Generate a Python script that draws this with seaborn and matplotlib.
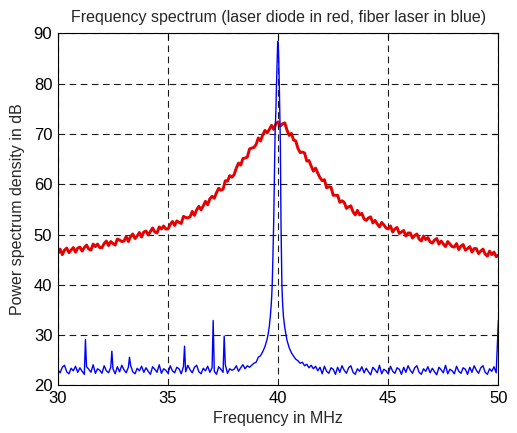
import numpy as np
import pandas as pd
import matplotlib
matplotlib.use("Agg")
import matplotlib.pyplot as plt
import seaborn as sns

# ---------------- data ----------------
freq_grid = np.round(np.linspace(30.0, 50.0, 201), 1)   # MHz, 0.1 MHz steps

# laser diode (red) spectrum, dB, one value per 0.1 MHz
red_db = [
    46.2, 47.1, 46.0, 46.9, 47.3, 46.4, 46.9, 47.4, 46.5, 47.3,
    47.5, 46.7, 47.4, 47.9, 47.1, 46.9, 48.1, 47.6, 48.1, 47.4,
    47.4, 48.2, 48.7, 47.8, 48.6, 48.2, 47.9, 49.1, 48.9, 48.6,
    48.7, 49.6, 48.6, 49.6, 50.1, 49.2, 49.7, 50.4, 49.5, 50.5,
    50.7, 49.9, 50.6, 51.3, 50.5, 50.3, 51.5, 51.1, 51.7, 51.1,
    51.1, 52.0, 52.6, 51.8, 52.7, 52.4, 52.2, 53.6, 53.4, 53.3,
    53.5, 54.6, 53.8, 54.9, 55.6, 54.9, 55.7, 56.6, 55.9, 57.1,
    57.6, 57.2, 58.3, 59.2, 58.8, 59.0, 60.7, 60.6, 61.7, 61.4,
    61.9, 63.2, 64.2, 63.8, 65.1, 65.2, 65.4, 67.0, 67.2, 67.3,
    67.9, 69.2, 68.6, 69.8, 70.7, 70.2, 70.9, 71.7, 70.9, 72.0,
    72.4, 71.6, 72.0, 72.2, 70.8, 69.7, 70.1, 68.8, 68.6, 67.1,
    66.3, 66.4, 66.2, 64.6, 64.7, 63.6, 62.6, 63.2, 62.2, 61.3,
    60.7, 60.9, 59.3, 59.5, 59.4, 57.8, 57.8, 57.8, 56.4, 56.7,
    56.4, 55.2, 55.5, 55.7, 54.5, 53.9, 54.8, 53.9, 54.2, 53.1,
    52.8, 53.3, 53.5, 52.3, 52.8, 52.1, 51.5, 52.4, 51.9, 51.3,
    51.1, 51.7, 50.5, 51.1, 51.4, 50.2, 50.5, 50.8, 49.7, 50.3,
    50.3, 49.3, 49.8, 50.1, 49.1, 48.7, 49.7, 49.0, 49.4, 48.5,
    48.3, 48.9, 49.2, 48.1, 48.7, 48.1, 47.6, 48.6, 48.1, 47.6,
    47.5, 48.2, 47.0, 47.7, 48.0, 46.9, 47.2, 47.6, 46.5, 47.2,
    47.2, 46.2, 46.7, 47.1, 46.1, 45.7, 46.7, 46.0, 46.5, 45.6,
    45.9,
]

# fiber laser (blue) spectrum, dB, one value per 0.1 MHz
blue_db = [
    23.1, 22.5, 23.6, 24.0, 22.7, 22.3, 23.4, 22.9, 23.8, 22.6,
    23.5, 22.8, 22.2, 23.7, 23.2, 22.6, 24.1, 22.4, 23.3, 23.0,
    22.4, 23.9, 22.9, 22.5, 23.6, 23.3, 22.3, 23.7, 22.7, 24.0,
    23.1, 22.5, 23.6, 24.0, 22.7, 22.3, 23.4, 22.9, 23.8, 22.6,
    23.5, 22.8, 22.2, 23.7, 23.2, 22.6, 24.1, 22.4, 23.3, 23.0,
    22.4, 23.9, 22.9, 22.5, 23.6, 23.3, 22.3, 23.7, 22.7, 24.0,
    23.1, 22.5, 23.6, 24.0, 22.7, 22.3, 23.4, 22.9, 23.8, 22.6,
    23.5, 22.8, 22.2, 23.7, 23.2, 22.6, 24.1, 22.4, 23.3, 23.0,
    23.2, 23.9, 22.8, 23.5, 24.1, 23.3, 23.9, 23.6,
    24.0, 24.4, 24.6, 25.6, 25.9, 26.7, 27.7, 29.2, 31.8, 37.0,
    53.0, 75.0, 87.5, 68.0, 36.5, 31.5, 29.0, 27.5, 26.5, 25.8,
    25.2, 24.9, 24.4, 24.6, 23.9, 24.2, 23.5, 24.0, 23.3,
    23.8, 22.9, 23.6,
    22.3, 23.8, 22.8, 22.4, 23.5, 23.2, 22.2, 23.6, 22.6, 23.9,
    23.0, 22.4, 23.5, 23.9, 22.6, 22.2, 23.3, 22.8, 23.7, 22.5,
    23.4, 22.7, 22.1, 23.6, 23.1, 22.5, 24.0, 22.3, 23.2, 22.9,
    22.3, 23.8, 22.8, 22.4, 23.5, 23.2, 22.2, 23.6, 22.6, 23.9,
    23.0, 22.4, 23.5, 23.9, 22.6, 22.2, 23.3, 22.8, 23.7, 22.5,
    23.4, 22.7, 22.1, 23.6, 23.1, 22.5, 24.0, 22.3, 23.2, 22.9,
    22.3, 23.8, 22.8, 22.4, 23.5, 23.2, 22.2, 23.6, 22.6, 23.9,
    23.0, 22.4, 23.5, 23.9, 22.6, 22.2, 23.3, 22.8, 23.7, 22.5,
    33.0,
]

# extra blue samples: fine detail of the carrier peak
peak_freq = [39.55, 39.65, 39.73, 39.76, 39.86, 39.92, 39.98, 40.02, 40.06, 40.13, 40.17, 40.24]
peak_db = [30.3, 34.0, 40.0, 45.0, 70.0, 79.0, 88.4, 86.0, 78.0, 52.0, 40.0, 33.7]

# extra blue samples: narrow spurs
spur_freq = [31.25, 32.45, 33.25, 35.75, 37.05, 37.55]
spur_db = [29.1, 26.8, 25.6, 27.8, 32.9, 29.8]

x_ticks = [30, 35, 40, 45, 50]
y_ticks = [20, 30, 40, 50, 60, 70, 80, 90]

# ---------------- tables ----------------
red_df = pd.DataFrame({"freq": freq_grid, "db": red_db})
blue_df = pd.concat([
    pd.DataFrame({"freq": freq_grid, "db": blue_db}),
    pd.DataFrame({"freq": peak_freq, "db": peak_db}),
    pd.DataFrame({"freq": spur_freq, "db": spur_db}),
]).sort_values("freq").reset_index(drop=True)

# ---------------- plot ----------------
sns.set_style("white")
plt.rcParams["font.family"] = ["Liberation Sans", "DejaVu Sans"]

fig = plt.figure(figsize=(5.17, 4.33), dpi=100)
ax = fig.add_axes([0.112, 0.110, 0.852, 0.813])

sns.lineplot(data=red_df, x="freq", y="db", color="#e60000", lw=2.1,
             estimator=None, sort=True, ax=ax)
sns.lineplot(data=blue_df, x="freq", y="db", color="#0000ff", lw=1.0,
             estimator=None, sort=True, ax=ax)

ax.set_xlim(30, 50)
ax.set_ylim(20, 90)
ax.set_xticks(x_ticks)
ax.set_yticks(y_ticks)
ax.grid(True, color="0.1", linestyle=(0, (6, 4)), lw=0.8)
ax.set_axisbelow(True)
ax.tick_params(direction="in", top=True, right=True, length=4, width=0.8,
               labelsize=12, colors="black", pad=4)
for s in ax.spines.values():
    s.set_visible(True)
    s.set_color("black")
    s.set_linewidth(0.8)

ax.set_title("Frequency spectrum (laser diode in red, fiber laser in blue)",
             fontsize=11.5, pad=8)
ax.set_xlabel("Frequency in MHz", fontsize=11.5, labelpad=4)
ax.set_ylabel("Power spectrum density in dB", fontsize=11.5, labelpad=6)

fig.savefig("out.png", dpi=100, facecolor="white")
